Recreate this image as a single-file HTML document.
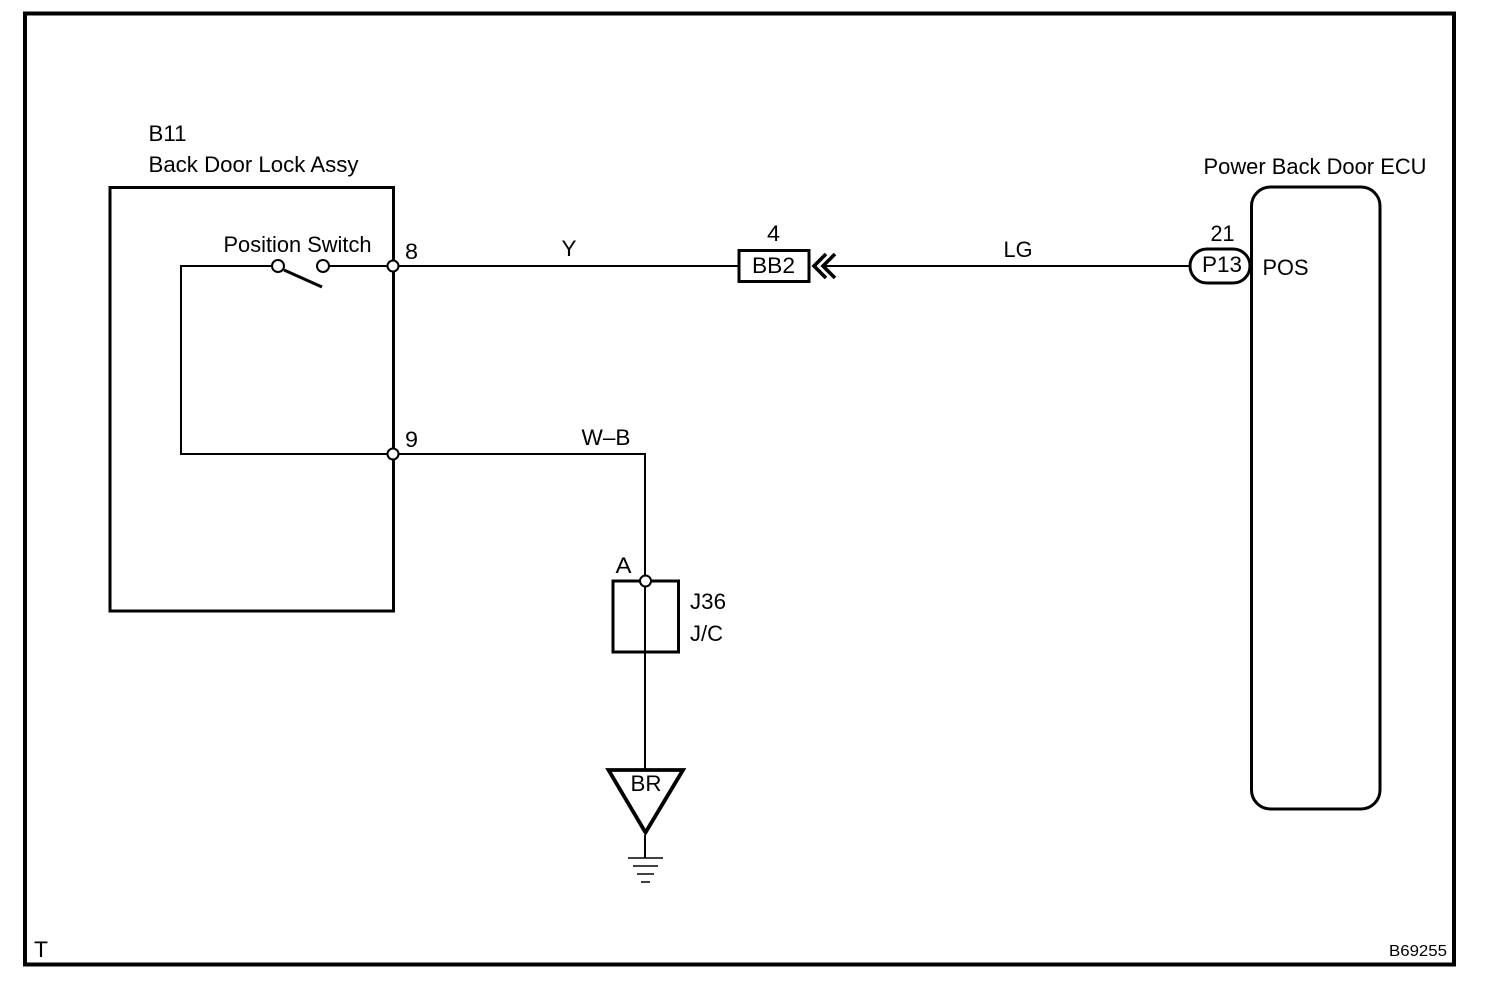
<!DOCTYPE html>
<html>
<head>
<meta charset="utf-8">
<style>
html,body{margin:0;padding:0;background:#fff;width:1504px;height:984px;overflow:hidden}
svg{display:block}
text{font-family:"Liberation Sans",sans-serif;font-size:22.5px;fill:#000}
</style>
</head>
<body>
<svg width="1504" height="984" viewBox="0 0 1504 984" xmlns="http://www.w3.org/2000/svg">
<rect width="1504" height="984" fill="#fff"/>
<!-- outer frame -->
<rect x="25" y="13.5" width="1429" height="951" fill="none" stroke="#000" stroke-width="4"/>
<!-- B11 box -->
<rect x="110" y="187.5" width="283.5" height="423.5" fill="none" stroke="#000" stroke-width="3"/>
<!-- ECU -->
<rect x="1251.5" y="187" width="128.5" height="622" rx="19" ry="19" fill="none" stroke="#000" stroke-width="3"/>
<!-- wires -->
<g fill="none" stroke="#000" stroke-width="2">
<path d="M278 266H181V454H393"/>
<path d="M323 266H738"/>
<path d="M822 266H1190"/>
<path d="M393 454H645V769"/>
<path d="M645 835V858"/>
<path d="M628 858H663M633 866H658M637 874H654M641 882H650" stroke-width="1.6"/>
</g>
<!-- switch arm -->
<path d="M284 270L322 287" stroke="#000" stroke-width="3" fill="none"/>
<!-- BB2 -->
<rect x="739" y="250.5" width="70" height="31" fill="#fff" stroke="#000" stroke-width="3"/>
<!-- double chevron -->
<path d="M826 254L814 266L826 278M835 254L823 266L835 278" fill="none" stroke="#000" stroke-width="3.600"/>
<!-- P13 -->
<rect x="1190" y="249" width="60" height="34" rx="17" ry="17" fill="#fff" stroke="#000" stroke-width="3"/>
<!-- J/C box -->
<rect x="613" y="581" width="65.500" height="71" fill="none" stroke="#000" stroke-width="3"/>
<!-- BR triangle -->
<path d="M608.500 770H683L645.500 832.500Z" fill="#fff" stroke="#000" stroke-width="3.800"/>
<!-- terminals -->
<g fill="#fff" stroke="#000" stroke-width="2">
<circle cx="278" cy="266" r="6"/>
<circle cx="323" cy="266" r="6"/>
<circle cx="393" cy="266" r="5.500"/>
<circle cx="393" cy="454" r="5.500"/>
<circle cx="645.500" cy="581" r="5.500"/>
</g>
<!-- labels -->
<text x="148.500" y="141" textLength="38" lengthAdjust="spacingAndGlyphs">B11</text>
<text x="148.500" y="172" textLength="210" lengthAdjust="spacingAndGlyphs">Back Door Lock Assy</text>
<text x="223.500" y="252" textLength="148" lengthAdjust="spacingAndGlyphs">Position Switch</text>
<text x="405" y="259" textLength="13" lengthAdjust="spacingAndGlyphs">8</text>
<text x="405" y="447" textLength="13" lengthAdjust="spacingAndGlyphs">9</text>
<text x="561.500" y="256" textLength="15" lengthAdjust="spacingAndGlyphs">Y</text>
<text x="767" y="241" textLength="13" lengthAdjust="spacingAndGlyphs">4</text>
<text x="752" y="273" textLength="43" lengthAdjust="spacingAndGlyphs">BB2</text>
<text x="1003.500" y="257" textLength="29" lengthAdjust="spacingAndGlyphs">LG</text>
<text x="1210.500" y="241" textLength="24" lengthAdjust="spacingAndGlyphs">21</text>
<text x="1202" y="272" textLength="40" lengthAdjust="spacingAndGlyphs">P13</text>
<text x="1262.500" y="275" textLength="46" lengthAdjust="spacingAndGlyphs">POS</text>
<text x="1203.500" y="174" textLength="223" lengthAdjust="spacingAndGlyphs">Power Back Door ECU</text>
<text x="581.500" y="445" textLength="49" lengthAdjust="spacingAndGlyphs">W–B</text>
<text x="615.500" y="573" textLength="16" lengthAdjust="spacingAndGlyphs">A</text>
<text x="690" y="609" textLength="36" lengthAdjust="spacingAndGlyphs">J36</text>
<text x="690" y="641" textLength="33" lengthAdjust="spacingAndGlyphs">J/C</text>
<text x="630.500" y="791" textLength="31" lengthAdjust="spacingAndGlyphs">BR</text>
<text x="34" y="957" textLength="14" lengthAdjust="spacingAndGlyphs">T</text>
<text x="1389" y="956" textLength="58" lengthAdjust="spacingAndGlyphs" style="font-size:16px">B69255</text>
</svg>
</body>
</html>
